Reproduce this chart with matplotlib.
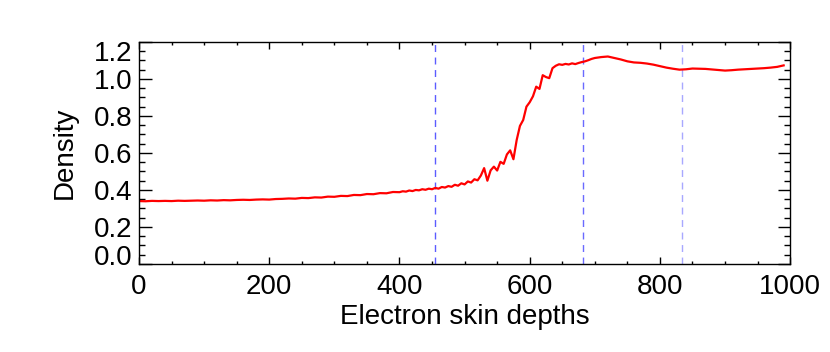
import numpy as np
import matplotlib
matplotlib.use("Agg")
import matplotlib.pyplot as plt
from matplotlib.ticker import MultipleLocator

# === Data ===
# upstream plateau (step 10)
x_up = [0, 10, 20, 30, 40, 50, 60, 70, 80, 90,
        100, 110, 120, 130, 140, 150, 160, 170, 180, 190,
        200, 210, 220, 230, 240, 250, 260, 270, 280, 290,
        300, 310, 320, 330, 340, 350, 360, 370, 380, 390, 400]
d_up = [0.340, 0.339, 0.341, 0.340, 0.341, 0.340, 0.342, 0.341, 0.342, 0.343,
        0.342, 0.344, 0.343, 0.345, 0.344, 0.346, 0.347, 0.346, 0.348, 0.349,
        0.348, 0.351, 0.352, 0.354, 0.353, 0.357, 0.356, 0.360, 0.359, 0.364,
        0.363, 0.368, 0.367, 0.373, 0.372, 0.378, 0.377, 0.383, 0.382, 0.389, 0.388]

# foot / ramp / overshoot (step 5)
x_ramp = [405, 410, 415, 420, 425, 430, 435, 440, 445, 450,
          455, 460, 465, 470, 475, 480, 485, 490, 495, 500,
          505, 510, 515, 520, 525, 530, 535, 540, 545, 550,
          555, 560, 565, 570, 575, 580, 585, 590, 595, 600,
          605, 610, 615, 620, 625, 630, 635, 640, 645, 650,
          655, 660, 665, 670, 675, 680, 685, 690, 695, 700]
d_ramp = [0.393, 0.391, 0.397, 0.394, 0.400, 0.398, 0.404, 0.401, 0.407, 0.404,
          0.411, 0.407, 0.416, 0.413, 0.421, 0.417, 0.428, 0.423, 0.436, 0.430,
          0.446, 0.440, 0.458, 0.452, 0.478, 0.518, 0.450, 0.506, 0.526, 0.505,
          0.552, 0.541, 0.592, 0.614, 0.566, 0.670, 0.746, 0.778, 0.850, 0.874,
          0.906, 0.958, 0.946, 1.020, 1.010, 1.004, 1.058, 1.071, 1.079, 1.076,
          1.081, 1.078, 1.084, 1.080, 1.086, 1.091, 1.095, 1.101, 1.108, 1.113]

# downstream (step 10)
x_down = [710, 720, 730, 740, 750, 760, 770, 780, 790, 800,
          810, 820, 830, 840, 850, 860, 870, 880, 890, 900,
          910, 920, 930, 940, 950, 960, 970, 980, 990]
d_down = [1.118, 1.121, 1.113, 1.105, 1.095, 1.089, 1.087, 1.083, 1.077, 1.069,
          1.061, 1.055, 1.050, 1.052, 1.056, 1.055, 1.054, 1.051, 1.048, 1.045,
          1.047, 1.050, 1.052, 1.054, 1.056, 1.058, 1.061, 1.065, 1.073]

yticks = [0.0, 0.2, 0.4, 0.6, 0.8, 1.0, 1.2]

vlines = [455, 682, 834]
vline_colors = ['#5c5cff', '#6a6aff', '#a8a8ff']

x = np.array(x_up + x_ramp + x_down)
dens = np.array(d_up + d_ramp + d_down)

plt.rcParams['font.family'] = ['Liberation Sans', 'DejaVu Sans']

fig = plt.figure(figsize=(8.3, 3.52), dpi=100)
ax = fig.add_axes([0.1675, 0.25, 0.7845, 0.631])

# === dashed markers ===
for xv, c in zip(vlines, vline_colors):
    ax.axvline(xv, color=c, lw=1.0, ls=(0, (5, 4)), zorder=1)

ax.plot(x, dens, color='red', lw=1.6, zorder=2)

ax.set_xlim(0, 1000)
ax.set_ylim(0, 1.2)
ax.xaxis.set_major_locator(MultipleLocator(200))
ax.xaxis.set_minor_locator(MultipleLocator(50))
ax.yaxis.set_minor_locator(MultipleLocator(0.05))
ax.set_yticks(yticks)
# end labels drawn separately (IDL pulls them inside the axis range)
ax.set_yticklabels([""] + [f"{v:.1f}" for v in yticks[1:-1]] + [""])

ax.tick_params(axis='both', which='both', direction='in', top=True, right=True,
               labelsize=20, width=1)
ax.tick_params(axis='y', which='major', length=9, pad=5)
ax.tick_params(axis='y', which='minor', length=4.5)
ax.tick_params(axis='x', which='major', length=5, pad=7)
ax.tick_params(axis='x', which='minor', length=2.5)

for yv, dy in [(yticks[0], 9), (yticks[-1], -9)]:
    ax.annotate(f"{yv:.1f}", xy=(0, yv), xycoords=('axes fraction', 'data'),
                xytext=(-7, dy), textcoords='offset pixels',
                ha='right', va='center_baseline', fontsize=20)

for sp in ax.spines.values():
    sp.set_linewidth(1.0)

ax.set_xlabel("Electron skin depths", fontsize=20, labelpad=3)
ax.set_ylabel("Density", fontsize=20, labelpad=11)

fig.savefig("out.png", dpi=100)
